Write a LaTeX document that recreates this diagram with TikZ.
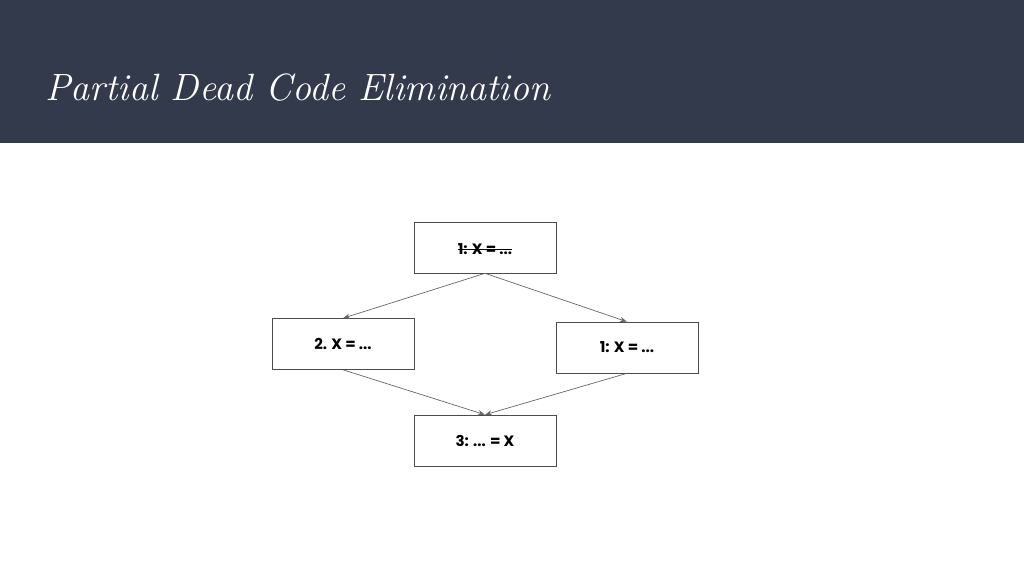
\documentclass[tikz,border=0pt]{standalone}
\usepackage{fontspec}
\setsansfont{Poppins}
\usetikzlibrary{arrows.meta}
\definecolor{hdr}{HTML}{323A4C}
\definecolor{edge}{HTML}{666666}
\begin{document}
\begin{tikzpicture}[x=1pt,y=-1pt,
  blk/.style={draw=black!70,line width=0.6pt,minimum width=142pt,minimum height=51pt,inner sep=0pt,font=\sffamily\bfseries\fontsize{15}{18}\selectfont},
  conn/.style={draw=edge,line width=0.7pt,-{Stealth[length=7pt,width=5pt]}}]
\useasboundingbox (0,0) rectangle (1024,576);
\fill[hdr] (0,0) rectangle (1024,143);
\node[anchor=west,text=white,font=\itshape\fontsize{38}{44}\selectfont] (title) at (42,88) {Partial Dead Code Elimination};
\node[blk] (top) at (485,247.5) {};
\node[font=\sffamily\bfseries\fontsize{15}{18}\selectfont,inner sep=0pt] (tt) at (485,249) {1: X = ...};
\draw[line width=0.9pt] (tt.west) -- (tt.east);
\node[blk] (left) at (343,344) {2. X = ...};
\node[blk] (right) at (627,347.5) {1: X = ...};
\node[blk] (bot) at (485,440.5) {3: ... = X};
\draw[conn] (top.south) -- (left.north);
\draw[conn] (top.south) -- (right.north);
\draw[conn] (left.south) -- (bot.north);
\draw[conn] (right.south) -- (bot.north);
\end{tikzpicture}
\end{document}
